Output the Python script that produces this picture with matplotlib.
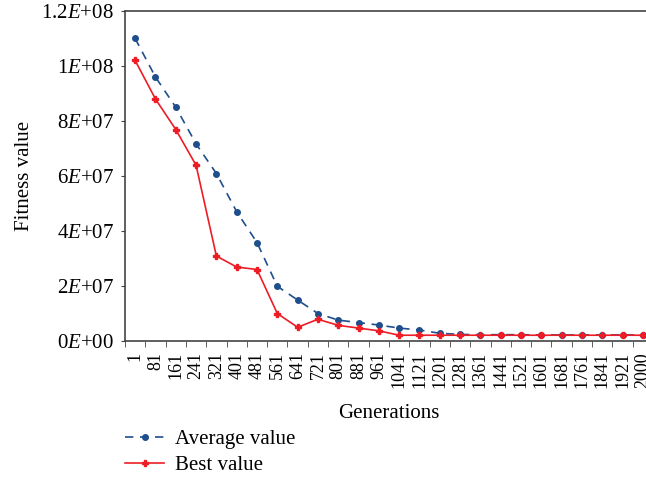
import matplotlib
matplotlib.use("Agg")
import numpy as np
from matplotlib import pyplot as plt

plt.rcParams['font.family'] = 'Liberation Serif'
plt.rcParams['mathtext.fontset'] = 'custom'
plt.rcParams['mathtext.rm'] = 'Liberation Serif'
plt.rcParams['mathtext.it'] = 'Liberation Serif:italic'

# Generations (category labels)
generations = ['1', '81', '161', '241', '321', '401', '481', '561', '641', '721',
               '801', '881', '961', '1041', '1121', '1201', '1281', '1361', '1441',
               '1521', '1601', '1681', '1761', '1841', '1921', '2000']

# Average fitness value
avg_value = [1.10e8, 9.6e7, 8.5e7, 7.17e7, 6.09e7, 4.7e7, 3.58e7, 1.99e7, 1.49e7, 1.0e7,
             7.6e6, 6.7e6, 5.8e6, 4.7e6, 4.0e6, 2.8e6, 2.4e6, 2.3e6, 2.3e6,
             2.3e6, 2.2e6, 2.2e6, 2.2e6, 2.2e6, 2.2e6, 2.2e6]

# Best fitness value
best_value = [1.02e8, 8.8e7, 7.69e7, 6.39e7, 3.09e7, 2.69e7, 2.6e7, 1.0e7, 5.0e6, 7.9e6,
              5.7e6, 4.7e6, 3.7e6, 2.1e6, 2.1e6, 2.1e6, 2.1e6, 2.1e6, 2.1e6,
              2.1e6, 2.1e6, 2.1e6, 2.1e6, 2.1e6, 2.1e6, 2.1e6]

y_ticks = [0, 2e7, 4e7, 6e7, 8e7, 1e8, 1.2e8]
y_tick_labels = [r'0$\it{E}$+00', r'2$\it{E}$+07', r'4$\it{E}$+07', r'6$\it{E}$+07',
                 r'8$\it{E}$+07', r'1$\it{E}$+08', r'1.2$\it{E}$+08']

fig = plt.figure(figsize=(6.46, 4.79), dpi=100)
# axes runs past the right edge, as in the reference
ax = fig.add_axes([125/646, 1 - 341/479, 528/646, 330/479])

x = np.arange(len(generations))
ax.plot(x, avg_value, color='#1f4e8c', ls=(0, (5, 4)), lw=1.2, marker='o', ms=4,
        label='Average value')
ax.plot(x, best_value, color='#ee1c25', ls='-', lw=1.2, marker='P', ms=4.5,
        label='Best value')

ax.set_xlim(-0.5, len(generations) - 0.5)
ax.set_ylim(0, 1.2e8)

ax.set_xticks(x)
ax.set_xticklabels(generations, rotation=90, fontsize=13)
ax.set_xticks(np.arange(-0.5, len(generations)), minor=True)
ax.tick_params(axis='x', which='major', length=0, pad=8)
ax.tick_params(axis='x', which='minor', length=4, direction='out', color='#444444')

ax.set_yticks(y_ticks)
ax.set_yticklabels(y_tick_labels, fontsize=15)
ax.tick_params(axis='y', length=3, direction='out', color='#444444', pad=5)

for side in ['left', 'bottom', 'top']:
    ax.spines[side].set_color('#444444')
    ax.spines[side].set_linewidth(1.2)
ax.spines['right'].set_visible(False)

ax.set_xlabel('Generations', fontsize=15, labelpad=11)
ax.set_ylabel('Fitness value', fontsize=15, labelpad=5)

fig.legend(loc='upper left', bbox_to_anchor=(106/646, 1 - 411/479), frameon=False,
           fontsize=15, handlelength=1.9, labelspacing=0.3, handletextpad=0.5)

fig.savefig('out.png', dpi=100)
